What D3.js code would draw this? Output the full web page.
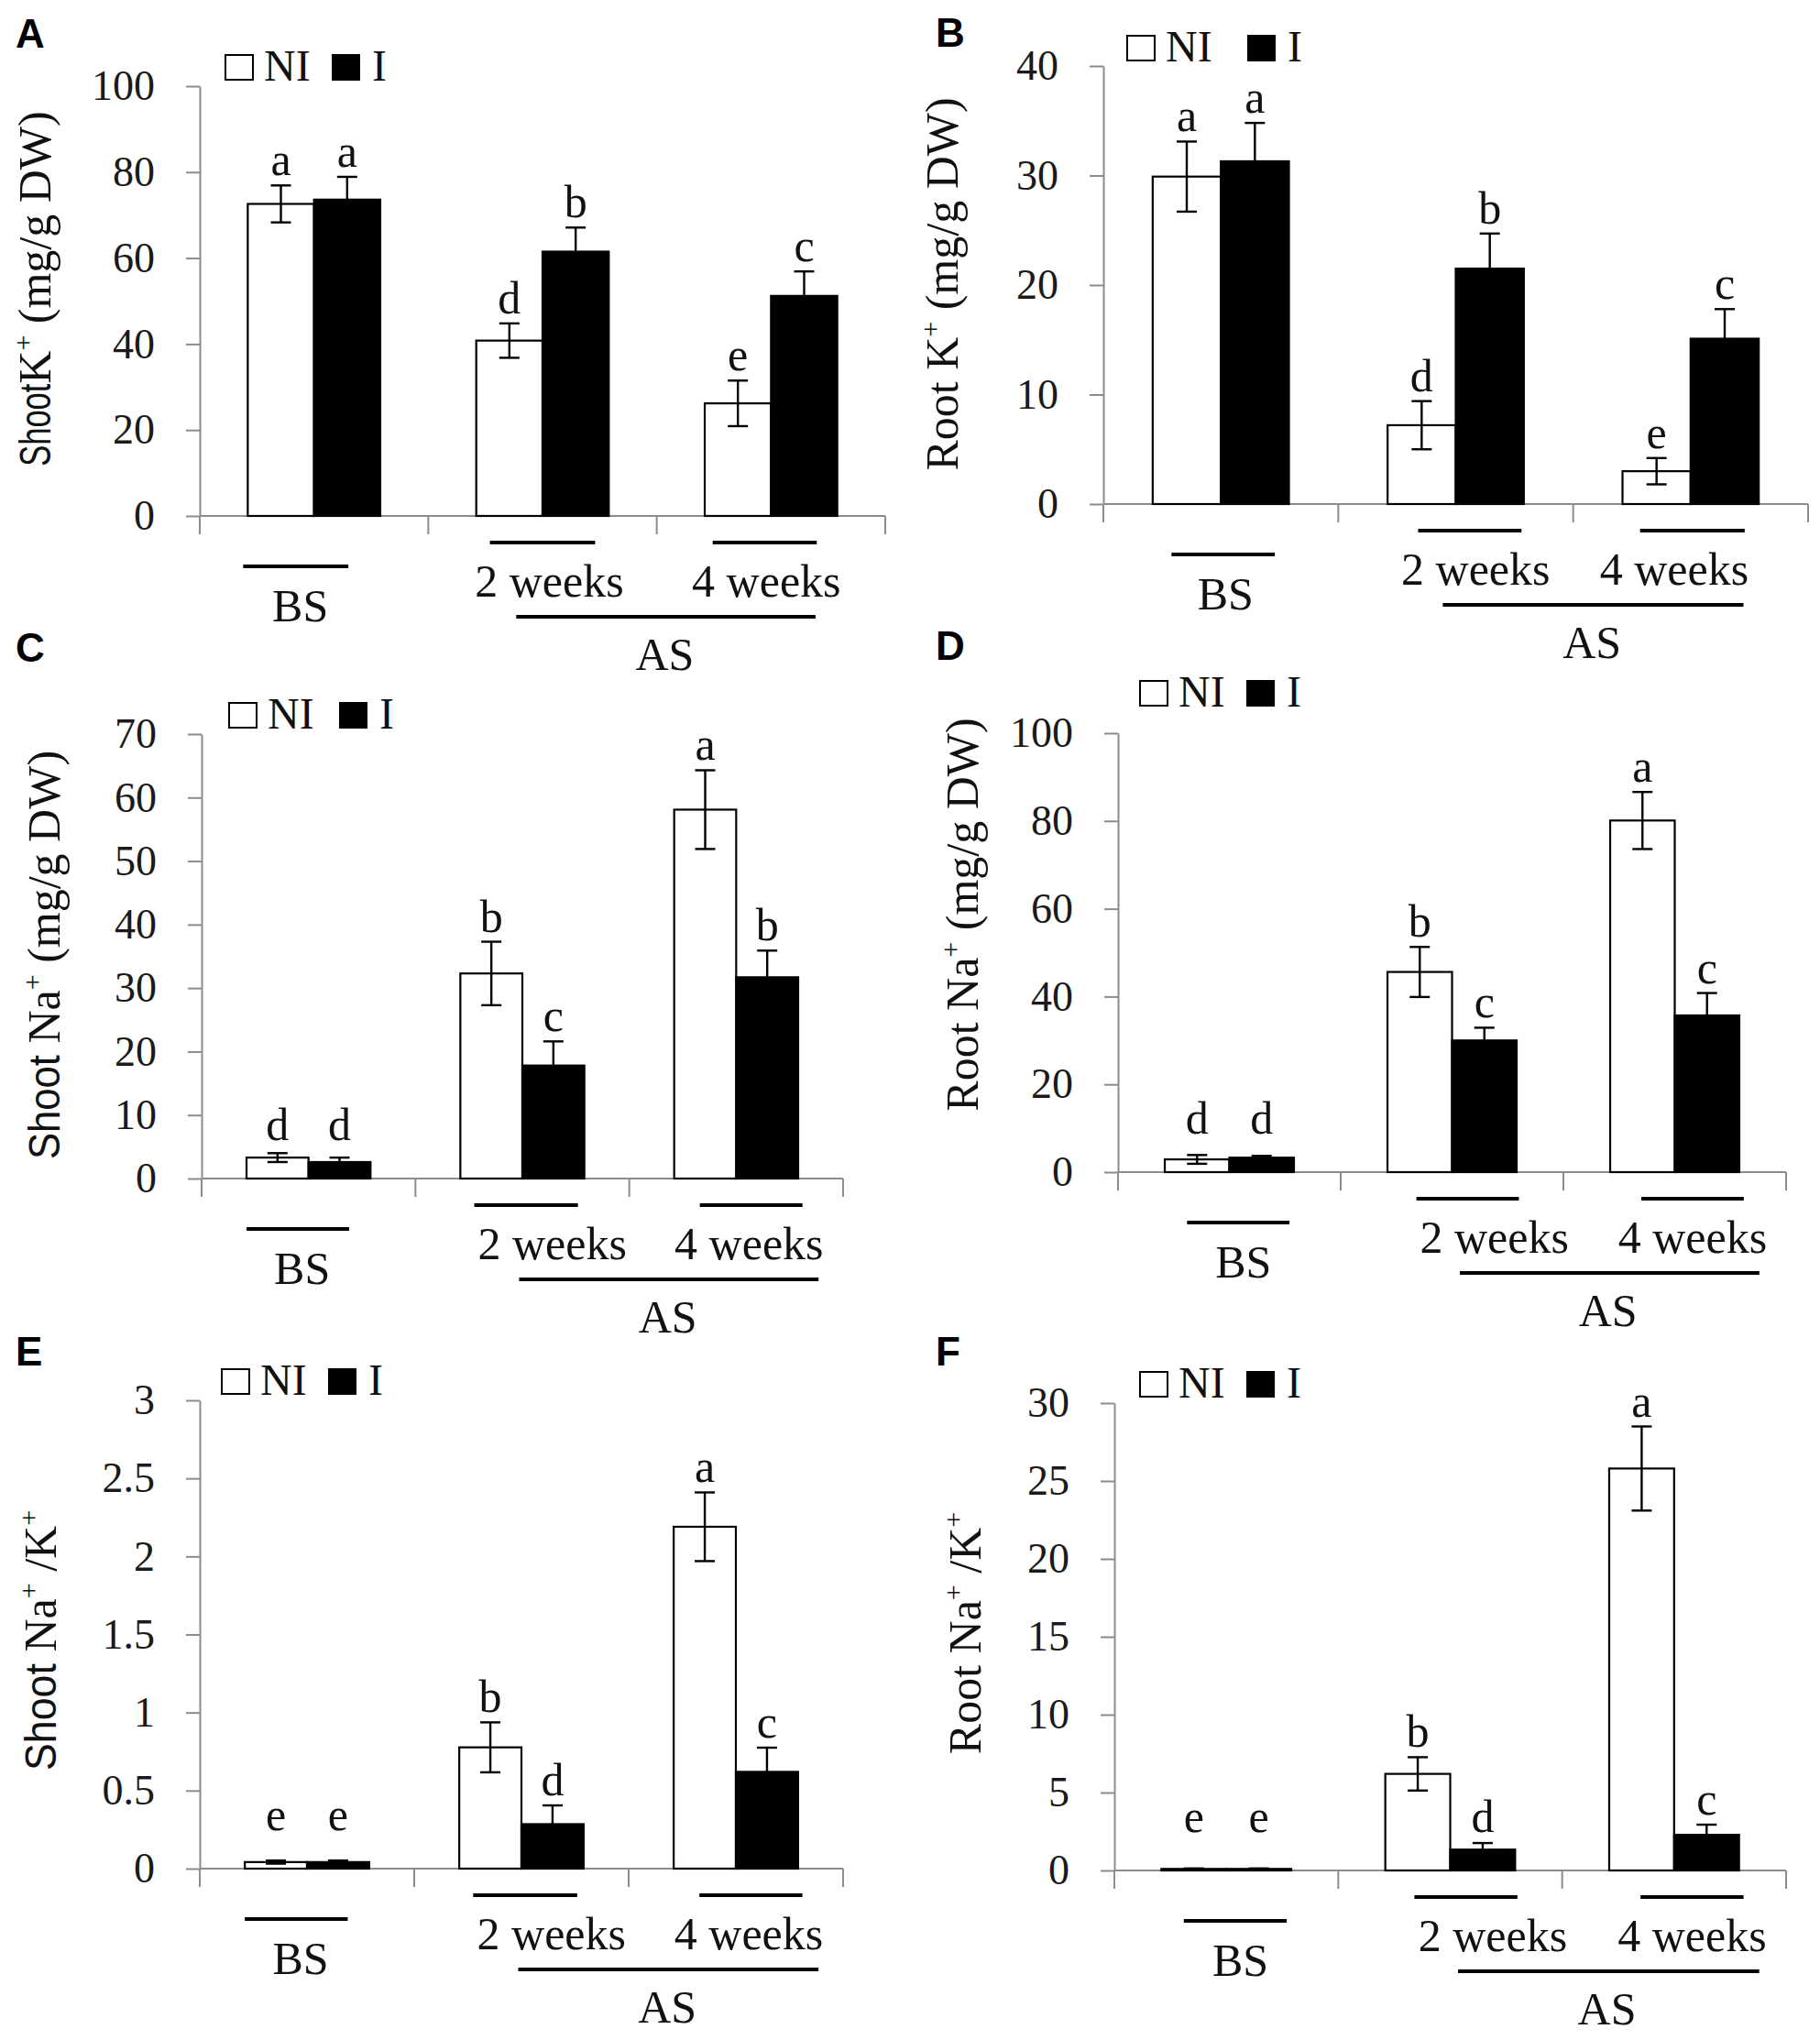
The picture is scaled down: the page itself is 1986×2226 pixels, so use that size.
<!DOCTYPE html>
<html>
<head>
<meta charset="utf-8">
<script src="https://d3js.org/d3.v7.min.js"></script>
<style>
  body { margin: 0; background: #fff; }
  svg { display: block; background: #fff; }
</style>
</head>
<body>
<svg id="chart" width="1986" height="2226"></svg>
<script>
// ---- data ----
var categories = ["BS", "2 weeks", "4 weeks"];
var series = ["NI", "I"];

// A: shoot K+ (mg/g DW)
var shootK_NI = [72.6, 40.8, 26.2], shootK_NI_err = [4.3, 4.0, 5.3];
var shootK_I  = [73.6, 61.5, 51.2], shootK_I_err  = [5.3, 5.6, 5.7];
var shootK_NI_sig = ["a", "d", "e"], shootK_I_sig = ["a", "b", "c"];
var shootK_ticks = [0, 20, 40, 60, 80, 100];

// B: root K+ (mg/g DW)
var rootK_NI = [29.9, 7.2, 3.0], rootK_NI_err = [3.2, 2.2, 1.2];
var rootK_I  = [31.3, 21.5, 15.1], rootK_I_err  = [3.5, 3.2, 2.7];
var rootK_NI_sig = ["a", "d", "e"], rootK_I_sig = ["a", "b", "c"];
var rootK_ticks = [0, 10, 20, 30, 40];

// C: shoot Na+ (mg/g DW)
var shootNa_NI = [3.3, 32.3, 58.1], shootNa_NI_err = [0.7, 5.0, 6.2];
var shootNa_I  = [2.6, 17.8, 31.7], shootNa_I_err  = [0.7, 3.8, 4.2];
var shootNa_NI_sig = ["d", "b", "a"], shootNa_I_sig = ["d", "c", "b"];
var shootNa_ticks = [0, 10, 20, 30, 40, 50, 60, 70];

// D: root Na+ (mg/g DW)
var rootNa_NI = [2.9, 45.6, 80.1], rootNa_NI_err = [1.0, 5.7, 6.5];
var rootNa_I  = [3.3, 30.0, 35.7], rootNa_I_err  = [0.4, 2.9, 5.1];
var rootNa_NI_sig = ["d", "b", "a"], rootNa_I_sig = ["d", "c", "c"];
var rootNa_ticks = [0, 20, 40, 60, 80, 100];

// E: shoot Na+/K+
var shootRatio_NI = [0.042, 0.777, 2.19], shootRatio_NI_err = [0.01, 0.16, 0.22];
var shootRatio_I  = [0.042, 0.285, 0.62], shootRatio_I_err  = [0.01, 0.12, 0.155];
var shootRatio_NI_sig = ["e", "b", "a"], shootRatio_I_sig = ["e", "d", "c"];
var shootRatio_ticks = [0, 0.5, 1, 1.5, 2, 2.5, 3];

// F: root Na+/K+
var rootRatio_NI = [0.1, 6.2, 25.8], rootRatio_NI_err = [0.03, 1.07, 2.7];
var rootRatio_I  = [0.1, 1.34, 2.29], rootRatio_I_err  = [0.03, 0.42, 0.65];
var rootRatio_NI_sig = ["e", "b", "a"], rootRatio_I_sig = ["e", "d", "c"];
var rootRatio_ticks = [0, 5, 10, 15, 20, 25, 30];

// ---- layout (pixels) ----
var leftA  = { bs: [0.19, 0.65], w2: [1.27, 1.73], w4: [2.245, 2.70], as: [1.385, 2.695], txt: [0.44, 1.53, 2.48, 2.035] };
var leftCE = { bs: [0.21, 0.69], w2: [1.275, 1.76], w4: [2.33, 2.81], as: [1.485, 2.885], txt: [0.47, 1.64, 2.56, 2.18] };
var rightB = { bs: [0.29, 0.73], w2: [1.34, 1.78], w4: [2.285, 2.73], as: [1.445, 2.725], txt: [0.52, 1.585, 2.43, 2.08] };
var rightDF = { bs: [0.31, 0.77], w2: [1.34, 1.80], w4: [2.35, 2.81], as: [1.535, 2.88], txt: [0.563, 1.69, 2.58, 2.20] };

var panels = [
  { id: "A", ni: shootK_NI, niErr: shootK_NI_err, i: shootK_I, iErr: shootK_I_err, niSig: shootK_NI_sig, iSig: shootK_I_sig, ticks: shootK_ticks,
    title: [{ t: "Shoot", sans: true, len: 90 }, { t: "K" }, { t: "+", sup: true }, { t: " (mg/g DW)" }],
    axisX: 218, axisEnd: 966, yTop: 94, yZero: 563, titleX: 55, titleY: 315, labX: 17, labY: 52,
    legX: 245, legY: 88, legGap: 0, ann: leftA },
  { id: "B", ni: rootK_NI, niErr: rootK_NI_err, i: rootK_I, iErr: rootK_I_err, niSig: rootK_NI_sig, iSig: rootK_I_sig, ticks: rootK_ticks,
    title: [{ t: "Root K" }, { t: "+", sup: true }, { t: " (mg/g DW)" }],
    axisX: 1204, axisEnd: 1973, yTop: 72, yZero: 550, titleX: 1045, titleY: 310, labX: 1021, labY: 51,
    legX: 1229, legY: 67, legGap: 15, ann: rightB },
  { id: "C", ni: shootNa_NI, niErr: shootNa_NI_err, i: shootNa_I, iErr: shootNa_I_err, niSig: shootNa_NI_sig, iSig: shootNa_I_sig, ticks: shootNa_ticks,
    title: [{ t: "Shoot", sans: true, len: 114 }, { t: " Na" }, { t: "+", sup: true }, { t: " (mg/g DW)" }],
    axisX: 220, axisEnd: 920, yTop: 801, yZero: 1286, titleX: 65, titleY: 1042, labX: 17, labY: 722,
    legX: 249, legY: 795, legGap: 4, ann: leftCE },
  { id: "D", ni: rootNa_NI, niErr: rootNa_NI_err, i: rootNa_I, iErr: rootNa_I_err, niSig: rootNa_NI_sig, iSig: rootNa_I_sig, ticks: rootNa_ticks,
    title: [{ t: "Root Na" }, { t: "+", sup: true }, { t: " (mg/g DW)" }],
    axisX: 1220, axisEnd: 1949, yTop: 800, yZero: 1279, titleX: 1067, titleY: 998, labX: 1021, labY: 720,
    legX: 1243, legY: 771, legGap: 0, ann: rightDF },
  { id: "E", ni: shootRatio_NI, niErr: shootRatio_NI_err, i: shootRatio_I, iErr: shootRatio_I_err, niSig: shootRatio_NI_sig, iSig: shootRatio_I_sig, ticks: shootRatio_ticks,
    title: [{ t: "Shoot", sans: true, len: 117 }, { t: " Na" }, { t: "+", sup: true }, { t: " /K" }, { t: "+", sup: true }],
    axisX: 218, axisEnd: 920, yTop: 1528, yZero: 2039, titleX: 61, titleY: 1790, labX: 17, labY: 1490,
    legX: 241, legY: 1522, legGap: 0, ann: leftCE },
  { id: "F", ni: rootRatio_NI, niErr: rootRatio_NI_err, i: rootRatio_I, iErr: rootRatio_I_err, niSig: rootRatio_NI_sig, iSig: rootRatio_I_sig, ticks: rootRatio_ticks,
    title: [{ t: "Root Na" }, { t: "+", sup: true }, { t: " /K" }, { t: "+", sup: true }],
    axisX: 1216, axisEnd: 1949, yTop: 1531, yZero: 2041, titleX: 1070, titleY: 1782, labX: 1021, labY: 1490,
    legX: 1243, legY: 1525, legGap: 0, ann: rightDF }
];

var serif = "'Palatino Linotype', 'Book Antiqua', Palatino, 'Liberation Serif', serif";
var sans = "'Liberation Sans', Arial, sans-serif";
var axisGray = "#8c8c8c";

var svg = d3.select("#chart");

panels.forEach(function (p) {
  var g = svg.append("g");
  var x = d3.scaleBand().domain(categories).range([p.axisX, p.axisEnd]);
  var bw = x.bandwidth();
  var xs = d3.scaleBand().domain(series).range([0.21 * bw, 0.79 * bw]);
  var y = d3.scaleLinear().domain([0, d3.max(p.ticks)]).range([p.yZero, p.yTop]);

  // y axis
  var yAxis = g.append("g")
      .attr("transform", "translate(" + p.axisX + ",0)")
      .call(d3.axisLeft(y).tickValues(p.ticks).tickSize(15).tickSizeOuter(0).tickPadding(34)
            .tickFormat(function (d) { return String(d); }));
  yAxis.attr("color", axisGray);
  yAxis.selectAll("path, line").attr("stroke-width", 2);
  yAxis.selectAll("text").attr("fill", "#1a1a1a").style("font-family", serif).style("font-size", "46px");

  // x axis line and category dividers
  g.append("line").attr("x1", p.axisX).attr("x2", p.axisEnd)
      .attr("y1", y(0)).attr("y2", y(0)).attr("stroke", axisGray).attr("stroke-width", 2);
  var edges = categories.map(function (c) { return x(c); }).concat([x.range()[1]]);
  g.selectAll(".divider").data(edges).enter().append("line")
      .attr("x1", function (d) { return d; }).attr("x2", function (d) { return d; })
      .attr("y1", y(0)).attr("y2", y(0) + 20)
      .attr("stroke", axisGray).attr("stroke-width", 2);

  // bars
  var rows = [];
  categories.forEach(function (c, k) {
    rows.push({ cat: c, s: "NI", v: p.ni[k], e: p.niErr[k], sig: p.niSig[k] });
    rows.push({ cat: c, s: "I", v: p.i[k], e: p.iErr[k], sig: p.iSig[k] });
  });

  g.selectAll(".bar").data(rows).enter().append("rect")
      .attr("x", function (d) { return x(d.cat) + xs(d.s); })
      .attr("y", function (d) { return y(d.v); })
      .attr("width", xs.bandwidth())
      .attr("height", function (d) { return y(0) - y(d.v); })
      .attr("fill", function (d) { return d.s === "NI" ? "#fff" : "#000"; })
      .attr("stroke", "#000").attr("stroke-width", 2.2);

  // error bars
  var cap = 11;
  var eg = g.selectAll(".err").data(rows).enter().append("g")
      .attr("stroke", "#000").attr("stroke-width", 2.4);
  function cx(d) { return x(d.cat) + xs(d.s) + xs.bandwidth() / 2; }
  eg.append("line").attr("x1", cx).attr("x2", cx)
      .attr("y1", function (d) { return y(d.v - d.e); })
      .attr("y2", function (d) { return y(d.v + d.e); });
  eg.append("line").attr("x1", function (d) { return cx(d) - cap; }).attr("x2", function (d) { return cx(d) + cap; })
      .attr("y1", function (d) { return y(d.v + d.e); }).attr("y2", function (d) { return y(d.v + d.e); });
  eg.append("line").attr("x1", function (d) { return cx(d) - cap; }).attr("x2", function (d) { return cx(d) + cap; })
      .attr("y1", function (d) { return y(d.v - d.e); }).attr("y2", function (d) { return y(d.v - d.e); });

  // significance letters
  g.selectAll(".sig").data(rows).enter().append("text")
      .attr("x", cx)
      .attr("y", function (d) { return Math.min(y(d.v + d.e) - 11, y(0) - 42); })
      .attr("text-anchor", "middle")
      .style("font-family", serif).style("font-size", "50px").attr("fill", "#111")
      .text(function (d) { return d.sig; });

  // group annotations under the axis
  var a = p.ann, y0 = y(0);
  var x0 = p.axisX;
  function fx(f) { return x0 + f * bw; }
  var annLines = [
    { r: a.bs, yy: y0 + 55 },
    { r: a.w2, yy: y0 + 29 },
    { r: a.w4, yy: y0 + 29 },
    { r: a.as, yy: y0 + 110 }
  ];
  g.selectAll(".ann").data(annLines).enter().append("line")
      .attr("x1", function (d) { return fx(d.r[0]); }).attr("x2", function (d) { return fx(d.r[1]); })
      .attr("y1", function (d) { return d.yy; }).attr("y2", function (d) { return d.yy; })
      .attr("stroke", "#000").attr("stroke-width", 4);
  var annText = [
    { t: categories[0], f: a.txt[0], yy: y0 + 115 },
    { t: categories[1], f: a.txt[1], yy: y0 + 88 },
    { t: categories[2], f: a.txt[2], yy: y0 + 88 },
    { t: "AS", f: a.txt[3], yy: y0 + 168 }
  ];
  g.selectAll(".annt").data(annText).enter().append("text")
      .attr("x", function (d) { return fx(d.f); }).attr("y", function (d) { return d.yy; })
      .attr("text-anchor", "middle")
      .style("font-family", serif).style("font-size", "50px").attr("fill", "#111")
      .text(function (d) { return d.t; });

  // legend
  var lg = g.append("g").attr("transform", "translate(" + p.legX + "," + p.legY + ")");
  lg.append("rect").attr("x", 1).attr("y", -28).attr("width", 30).attr("height", 27)
      .attr("fill", "#fff").attr("stroke", "#000").attr("stroke-width", 2);
  lg.append("text").attr("x", 43).attr("y", 0)
      .style("font-family", serif).style("font-size", "48px").attr("fill", "#111").text(series[0]);
  lg.append("rect").attr("x", 117 + p.legGap).attr("y", -29).attr("width", 31).attr("height", 29).attr("fill", "#000");
  lg.append("text").attr("x", 161 + p.legGap).attr("y", 0)
      .style("font-family", serif).style("font-size", "48px").attr("fill", "#111").text(series[1]);

  // y title
  var tt = g.append("text")
      .attr("transform", "translate(" + p.titleX + "," + p.titleY + ") rotate(-90)")
      .attr("text-anchor", "middle")
      .style("font-family", serif).style("font-size", "50px").attr("fill", "#111");
  var shifted = false;
  p.title.forEach(function (part) {
    var ts = tt.append("tspan").text(part.t);
    if (part.sans) {
      ts.style("font-family", sans).style("font-size", "48px");
      if (part.len) ts.attr("textLength", part.len).attr("lengthAdjust", "spacingAndGlyphs");
    }
    if (part.sup) {
      ts.style("font-size", "30px").attr("dy", -20);
      shifted = true;
    } else if (shifted) {
      ts.attr("dy", 20);
      shifted = false;
    }
  });

  // panel letter
  g.append("text").attr("x", p.labX).attr("y", p.labY)
      .style("font-family", sans).style("font-weight", "bold").style("font-size", "44px")
      .attr("fill", "#000").text(p.id);
});
</script>
</body>
</html>
